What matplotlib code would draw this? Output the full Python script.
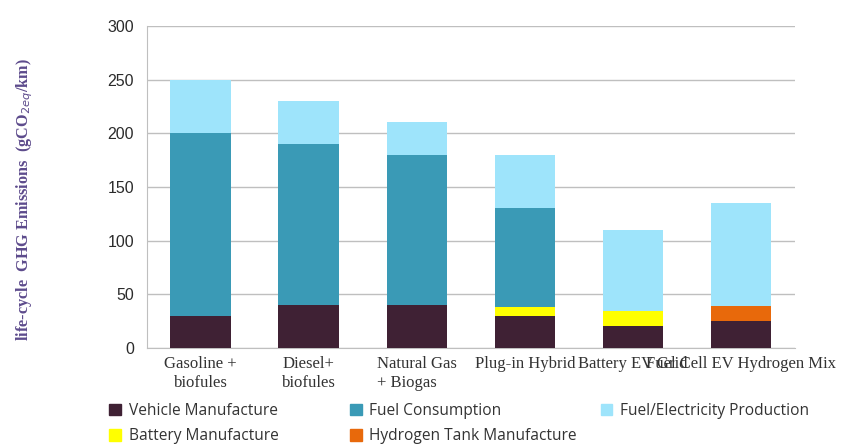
import matplotlib
matplotlib.use('Agg')
import matplotlib.pyplot as plt
from matplotlib.patches import Patch
import numpy as np

categories = ['Gasoline +\nbiofules', 'Diesel+\nbiofules', 'Natural Gas\n+ Biogas',
              'Plug-in Hybrid', 'Battery EV Grid', 'Fuel Cell EV Hydrogen Mix']
vehicle = [30, 40, 40, 30, 20, 25]
battery = [0, 0, 0, 8, 14, 0]
hydrogen = [0, 0, 0, 0, 0, 14]
fuel_cons = [170, 150, 140, 92, 0, 0]
production = [50, 40, 30, 50, 76, 96]

c_vehicle = '#3f2134'
c_fuel = '#3a9ab6'
c_prod = '#9ee4fb'
c_batt = '#ffff00'
c_h2 = '#e8690b'

fig = plt.figure(figsize=(8.43, 4.46), dpi=100)
ax = fig.add_axes([0.174, 0.22, 0.769, 0.722])

x = np.arange(len(categories))
w = 0.56
bottom = np.zeros(len(categories))
for vals, col in [(vehicle, c_vehicle), (battery, c_batt), (hydrogen, c_h2),
                  (fuel_cons, c_fuel), (production, c_prod)]:
    ax.bar(x, vals, w, bottom=bottom, color=col, zorder=3)
    bottom += np.array(vals)

ax.set_xlim(-0.5, len(categories) - 0.5)
ax.set_ylim(0, 300)
ax.set_yticks(range(0, 301, 50))
ax.yaxis.grid(True, color='#bfbfbf', lw=1, zorder=0)
for s in ['top', 'right']:
    ax.spines[s].set_visible(False)
for s in ['left', 'bottom']:
    ax.spines[s].set_color('#bfbfbf')
ax.tick_params(axis='y', length=0, pad=9, labelcolor='#2b2b2b', labelsize=11.5)
ax.tick_params(axis='x', length=0, pad=6)
for t in ax.get_yticklabels():
    t.set_family('Liberation Sans')

ax.set_xticks(x)
ax.set_xticklabels(categories, family='Liberation Serif', fontsize=12, color='#333333')
ax.get_xticklabels()[2].set_multialignment('left')

ax.set_ylabel('life-cycle  GHG Emissions  (gCO$_{2eq}$/km)', family='Liberation Serif',
              fontsize=11.7, fontweight='bold', color='#5d4b8c')
ax.yaxis.set_label_coords(-0.172, 0.46)

leg_font = {'family': 'Open Sans', 'size': 11.2}
leg_style = dict(frameon=False, prop=leg_font, handlelength=0.75, handleheight=0.75,
                 handletextpad=0.5, labelspacing=0.6, labelcolor='#333333')
handles1 = [Patch(color=c_vehicle, label='Vehicle Manufacture'),
            Patch(color=c_batt, label='Battery Manufacture'),
            Patch(color=c_fuel, label='Fuel Consumption'),
            Patch(color=c_h2, label='Hydrogen Tank Manufacture')]
handles2 = [Patch(color=c_prod, label='Fuel/Electricity Production')]
fig.legend(handles=handles1, ncol=2, loc='upper left', bbox_to_anchor=(0.113, 0.128),
           columnspacing=4.6, **leg_style)
fig.legend(handles=handles2, loc='upper left', bbox_to_anchor=(0.696, 0.128), **leg_style)

fig.savefig('out.png', dpi=100)
